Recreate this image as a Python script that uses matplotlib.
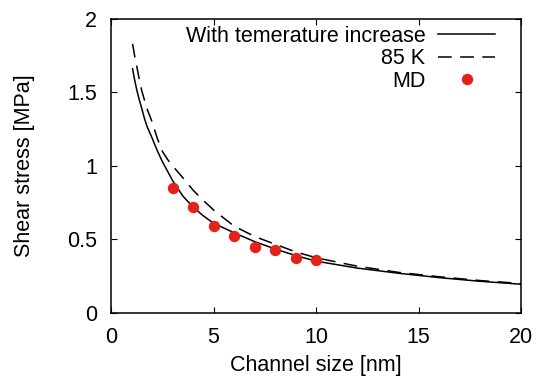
import matplotlib.pyplot as plt

plt.rcParams['font.family'] = ['Liberation Sans', 'DejaVu Sans']

# values
x_temp = [1.05, 1.15, 1.25, 1.375, 1.5, 1.625, 1.75, 1.875, 2, 2.25, 2.5, 2.75, 3, 3.5, 4, 4.5,
          5, 6, 7, 8, 9, 10, 12, 14, 16, 18, 20]
y_temp = [1.66, 1.585, 1.52, 1.45, 1.39, 1.325, 1.27, 1.23, 1.19, 1.105, 1.03, 0.965, 0.90,
          0.795, 0.72, 0.66, 0.61, 0.545, 0.485, 0.435, 0.39, 0.352, 0.305, 0.27, 0.24, 0.215, 0.195]

x_85k = [1.05, 1.15, 1.25, 1.375, 1.5, 1.625, 1.75, 1.875, 2, 2.25, 2.5, 2.75, 3, 3.5, 4, 4.5,
         5, 6, 7, 8, 9, 10, 12, 14, 16, 18, 20]
y_85k = [1.83, 1.75, 1.68, 1.59, 1.51, 1.45, 1.39, 1.345, 1.30, 1.19, 1.10, 1.045, 1.00,
         0.92, 0.835, 0.765, 0.70, 0.59, 0.52, 0.467, 0.415, 0.375, 0.318, 0.276, 0.246, 0.22, 0.20]

x_md = [3, 4, 5, 6, 7, 8, 9, 10]
y_md = [0.85, 0.72, 0.59, 0.52, 0.445, 0.425, 0.375, 0.36]

fs = 15.5

fig = plt.figure(figsize=(5.39, 3.77), dpi=100)
ax = fig.add_axes([0.206, 0.170, 0.761, 0.780])

ax.plot(x_temp, y_temp, color='black', lw=1.1, label='With temerature increase')
ax.plot(x_85k, y_85k, color='black', lw=1.1, dashes=(9, 5.5), label='85 K')
ax.plot(x_md, y_md, 'o', color='#e3221b', ms=8.2, mec='none', label='MD')

ax.set_xlim(0, 20)
ax.set_ylim(0, 2)
ax.set_xticks([0, 5, 10, 15, 20])
ax.set_yticks([0, 0.5, 1, 1.5, 2])
ax.set_yticklabels(['0', '0.5', '1', '1.5', '2'])
ax.tick_params(direction='in', top=True, right=True, length=4, width=0.8,
               labelsize=fs, pad=10)
for s in ax.spines.values():
    s.set_linewidth(1.1)

ax.set_xlabel('Channel size [nm]', fontsize=fs, labelpad=5)
ax.set_ylabel('Shear stress [MPa]', fontsize=fs, labelpad=23)

ax.legend(loc='upper right', bbox_to_anchor=(0.937, 0.976), frameon=False,
          markerfirst=False, fontsize=fs, handlelength=2.65, handletextpad=0.6,
          borderpad=0, borderaxespad=0, labelspacing=0.07, numpoints=1)

plt.savefig('out.png', dpi=100)
